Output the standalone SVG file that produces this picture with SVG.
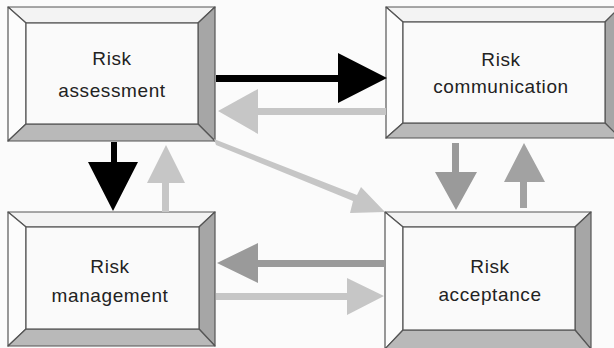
<svg xmlns="http://www.w3.org/2000/svg" width="614" height="348" viewBox="0 0 614 348">
<style>
.bg{fill:#fbfbfb}
.out{stroke:#555;stroke-width:1.2;stroke-linejoin:round}
.top{fill:#f3f3f3}
.left{fill:#fcfcfc}
.right{fill:#a6a6a6}
.bot{fill:#b9b9b9}
.face{fill:#fafafa;stroke:#555;stroke-width:1.2}
.lbl{font-family:"Liberation Sans",Arial,sans-serif;font-size:19px;fill:#222;text-anchor:middle;letter-spacing:0.6px}
.blk{fill:#000}
.lg{fill:#c6c6c6}
.mg{fill:#9a9a9a}
</style>
<rect class="bg" x="0" y="0" width="614" height="348"/>
<g id="risk-assessment">
<polygon class="top out" points="8,7 215,7 198,23 26,23"/>
<polygon class="left out" points="8,7 26,23 26,124 8,141"/>
<polygon class="right out" points="215,7 215,141 198,124 198,23"/>
<polygon class="bot out" points="8,141 26,124 198,124 215,141"/>
<rect class="face" x="26" y="23" width="172" height="101"/>
<text class="lbl" x="112" y="65">Risk</text>
<text class="lbl" x="112" y="97">assessment</text>
</g>
<g id="risk-communication">
<polygon class="top out" points="386,7 620,7 605,22 403,22"/>
<polygon class="left out" points="386,7 403,22 403,123 386,138"/>
<polygon class="right out" points="620,7 620,138 605,123 605,22"/>
<polygon class="bot out" points="386,138 403,123 605,123 620,138"/>
<rect class="face" x="403" y="22" width="202" height="101"/>
<text class="lbl" x="501" y="66">Risk</text>
<text class="lbl" x="501" y="93">communication</text>
</g>
<g id="risk-management">
<polygon class="top out" points="8,212 215,212 199,227 26,227"/>
<polygon class="left out" points="8,212 26,227 26,329 8,346"/>
<polygon class="right out" points="215,212 215,346 199,329 199,227"/>
<polygon class="bot out" points="8,346 26,329 199,329 215,346"/>
<rect class="face" x="26" y="227" width="173" height="102"/>
<text class="lbl" x="110" y="273">Risk</text>
<text class="lbl" x="110" y="302">management</text>
</g>
<g id="risk-acceptance">
<polygon class="top out" points="385,212 591,212 575,227 403,227"/>
<polygon class="left out" points="385,212 403,227 403,330 385,349"/>
<polygon class="right out" points="591,212 591,349 575,330 575,227"/>
<polygon class="bot out" points="385,349 403,330 575,330 591,349"/>
<rect class="face" x="403" y="227" width="172" height="103"/>
<text class="lbl" x="490" y="273">Risk</text>
<text class="lbl" x="490" y="301">acceptance</text>
</g>
<g id="connectors">
<path class="blk" d="M216,75 H338 V53 L387,78 L338,103 V82 H216 Z"/>
<path class="lg" d="M386,108 H258 V89 L218,111 L258,134 V115 H386 Z"/>
<path class="lg" d="M214,139 L216,145 L353,201 L350,213 L385,212 L361,187 L357,195 Z"/>
<path class="blk" d="M111,142 H117 V162 H138 L113,211 L88,162 H111 Z"/>
<path class="lg" d="M162,212 V183 H147 L166,145 L185,183 H169 V212 Z"/>
<path class="mg" d="M385,260 H258 V243 L217,263 L258,283 V267 H385 Z"/>
<path class="lg" d="M216,293 H347 V278 L384,296 L347,315 V300 H216 Z"/>
<path class="mg" d="M452,143 H459 V172 H477 L456,210 L435,172 H452 Z"/>
<path fill="#a2a2a2" d="M520,208 V182 H504 L524,143 L545,182 H527 V208 Z"/>
</g>
</svg>
